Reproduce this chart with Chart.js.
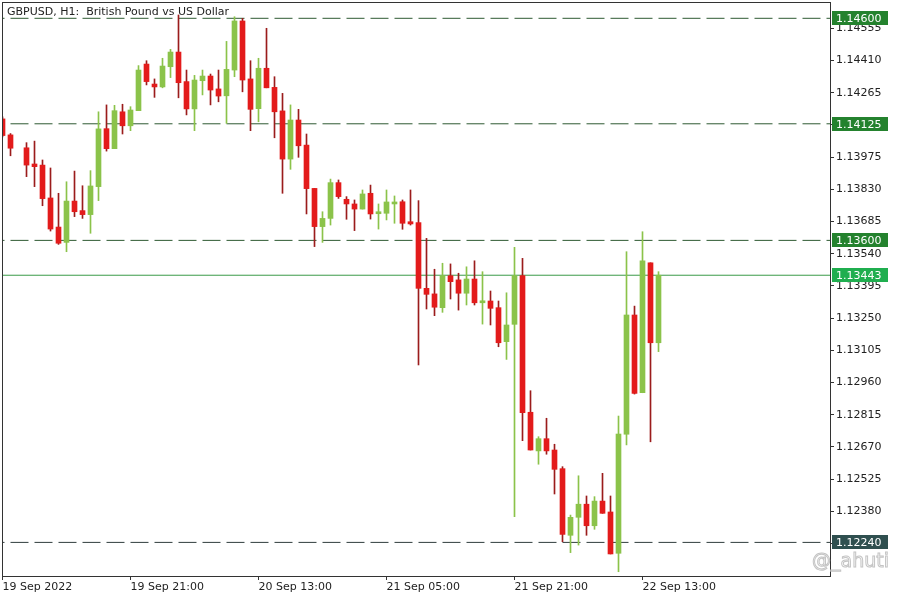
<!DOCTYPE html>
<html>
<head>
<meta charset="utf-8">
<script src="https://cdn.jsdelivr.net/npm/chart.js@4.4.0/dist/chart.umd.min.js"></script>
<style>
  html, body { margin: 0; padding: 0; background: #fff; }
  #wrap { width: 900px; height: 600px; }
</style>
</head>
<body>
<div id="wrap"><canvas id="chart" width="900" height="600"></canvas></div>
<script>
// GBPUSD H1 bars, index 0 = 19 Sep 2022 05:00 (index 2 has no bar on the chart)
const opens = [1.14147, 1.14075, null, 1.14017, 1.13944, 1.13939, 1.13791, 1.13660, 1.13591, 1.13777,
  1.13734, 1.13716, 1.13842, 1.14103, 1.14013, 1.14179, 1.14116, 1.14184, 1.14394, 1.14304,
  1.14291, 1.14382, 1.14448, 1.14315, 1.14192, 1.14319, 1.14340, 1.14282, 1.14251, 1.14367,
  1.14588, 1.14327, 1.14193, 1.14375, 1.14289, 1.14183, 1.13966, 1.14142, 1.14029, 1.13834,
  1.13662, 1.13699, 1.13860, 1.13785, 1.13764, 1.13741, 1.13812, 1.13720, 1.13722, 1.13764,
  1.13774, 1.13684, 1.13680, 1.13384, 1.13359, 1.13297, 1.13441, 1.13422, 1.13362, 1.13426,
  1.13319, 1.13327, 1.13297, 1.13144, 1.13222, 1.13441, 1.12826, 1.12652, 1.12707, 1.12656,
  1.12572, 1.12272, 1.12353, 1.12412, 1.12315, 1.12426, 1.12377, 1.12191, 1.12727, 1.13264,
  1.12914, 1.13499, 1.13139];
const highs = [1.14156, 1.14081, null, 1.14040, 1.14047, 1.13962, 1.13926, 1.13812, 1.13864, 1.13912,
  1.13846, 1.13914, 1.14179, 1.14210, 1.14208, 1.14213, 1.14202, 1.14387, 1.14409, 1.14327,
  1.14420, 1.14460, 1.14615, 1.14367, 1.14343, 1.14367, 1.14349, 1.14367, 1.14496, 1.14607,
  1.14600, 1.14409, 1.14420, 1.14555, 1.14337, 1.14262, 1.14210, 1.14190, 1.14079, 1.13834,
  1.13729, 1.13876, 1.13872, 1.13797, 1.13782, 1.13827, 1.13849, 1.13764, 1.13827, 1.13800,
  1.13782, 1.13827, 1.13779, 1.13609, 1.13470, 1.13497, 1.13494, 1.13452, 1.13481, 1.13508,
  1.13459, 1.13372, 1.13327, 1.13364, 1.13569, 1.13519, 1.12923, 1.12716, 1.12799, 1.12682,
  1.12581, 1.12363, 1.12540, 1.12449, 1.12446, 1.12551, 1.12449, 1.12809, 1.13549, 1.13304,
  1.13639, 1.13499, 1.13459];
const lows = [1.14066, 1.13981, null, 1.13887, 1.13842, 1.13756, 1.13642, 1.13582, 1.13549, 1.13707,
  1.13699, 1.13632, 1.13779, 1.14002, 1.14013, 1.14079, 1.14094, 1.14184, 1.14300, 1.14244,
  1.14287, 1.14333, 1.14242, 1.14165, 1.14094, 1.14255, 1.14210, 1.14224, 1.14127, 1.14337,
  1.14269, 1.14094, 1.14134, 1.14287, 1.14062, 1.13812, 1.13920, 1.13974, 1.13719, 1.13572,
  1.13591, 1.13669, 1.13789, 1.13695, 1.13644, 1.13741, 1.13696, 1.13651, 1.13692, 1.13677,
  1.13650, 1.13669, 1.13039, 1.13291, 1.13261, 1.13276, 1.13336, 1.13286, 1.13309, 1.13309,
  1.13223, 1.13219, 1.13121, 1.13064, 1.12356, 1.12698, 1.12656, 1.12592, 1.12637, 1.12458,
  1.12243, 1.12194, 1.12228, 1.12272, 1.12299, 1.12371, 1.12188, 1.12108, 1.12679, 1.12908,
  1.12914, 1.12693, 1.13099];
const closes = [1.14072, 1.14015, null, 1.13939, 1.13932, 1.13788, 1.13651, 1.13587, 1.13777, 1.13729,
  1.13716, 1.13845, 1.14102, 1.14013, 1.14184, 1.14116, 1.14187, 1.14367, 1.14315, 1.14291,
  1.14385, 1.14448, 1.14310, 1.14192, 1.14322, 1.14340, 1.14277, 1.14250, 1.14370, 1.14588,
  1.14322, 1.14190, 1.14375, 1.14287, 1.14179, 1.13966, 1.14142, 1.14026, 1.13833, 1.13662,
  1.13699, 1.13860, 1.13797, 1.13764, 1.13741, 1.13809, 1.13719, 1.13729, 1.13773, 1.13773,
  1.13677, 1.13674, 1.13384, 1.13357, 1.13299, 1.13441, 1.13414, 1.13362, 1.13426, 1.13319,
  1.13328, 1.13294, 1.13139, 1.13219, 1.13441, 1.12824, 1.12656, 1.12707, 1.12652, 1.12569,
  1.12276, 1.12353, 1.12412, 1.12315, 1.12426, 1.12371, 1.12188, 1.12728, 1.13264, 1.12911,
  1.13508, 1.13139, 1.13443];

const timeTicks = [0, 16, 32, 48, 64, 80];
const timeLabels = ["19 Sep 2022", "19 Sep 21:00", "20 Sep 13:00", "21 Sep 05:00", "21 Sep 21:00", "22 Sep 13:00"];
const priceTicks = [1.14555, 1.14410, 1.14265, 1.14120, 1.13975, 1.13830, 1.13685, 1.13540, 1.13395,
  1.13250, 1.13105, 1.12960, 1.12815, 1.12670, 1.12525, 1.12380, 1.12235];
const levels = [1.14600, 1.14125, 1.13600, 1.12240];
const lastPrice = 1.13443;
const boxPrices = [1.14600, 1.14125, 1.13600, 1.13443, 1.12240];

const bullColor = "#8bc34a";
const bearColor = "#e31b1b";
const bearWick = "#9b1c1c";
const levelColors = ["#2f5a33", "#2f5a33", "#2f5a33", "#2f3d3d"];
const boxColors = ["#24822e", "#24822e", "#24822e", "#1fae4f", "#2f4f4f"];
const font = "'DejaVu Sans', sans-serif";

const idx = opens.map((o, i) => i).filter((i) => opens[i] !== null);
const isBull = (i) => closes[i] >= opens[i];

const bodies = idx.map((i) => ({ x: i, y: [opens[i], closes[i]] }));
const wicks = idx.map((i) => ({ x: i, y: [lows[i], highs[i]] }));

const levelSets = levels.map((v, k) => ({
  type: "line",
  data: [{ x: -5, y: v }, { x: 110, y: v }],
  borderColor: levelColors[k],
  borderWidth: 1,
  borderDash: [18, 6],
  pointRadius: 0,
  order: 5,
}));

function noPadding(s) {
  s.paddingTop = 0;
  s.paddingBottom = 0;
  s.paddingLeft = 0;
  s.paddingRight = 0;
}

const overlay = {
  id: "overlay",
  afterDraw(chart) {
    const { ctx, chartArea, scales } = chart;
    ctx.save();
    // frame
    ctx.strokeStyle = "#333";
    ctx.lineWidth = 1;
    ctx.strokeRect(chartArea.left + 0.5, chartArea.top + 0.5,
      chartArea.right - chartArea.left, chartArea.bottom - chartArea.top);
    // title
    ctx.font = "11px " + font;
    ctx.fillStyle = "#222";
    ctx.textBaseline = "middle";
    ctx.fillText("GBPUSD, H1:  British Pound vs US Dollar", 7, 12);
    // price boxes
    boxPrices.forEach((v, k) => {
      const y = Math.round(scales.y.getPixelForValue(v));
      ctx.fillStyle = boxColors[k];
      ctx.fillRect(chartArea.right + 2, y - 7, 56, 14);
      ctx.fillStyle = "#fff";
      ctx.fillText(v.toFixed(5), chartArea.right + 6, y + 1);
    });
    // watermark
    ctx.font = "19px " + font;
    ctx.lineWidth = 1;
    ctx.strokeStyle = "#c4c4c4";
    ctx.fillStyle = "rgba(255,255,255,0.9)";
    ctx.fillText("@_ahuti", 812, 562);
    ctx.strokeText("@_ahuti", 812, 562);
    ctx.restore();
  },
};

new Chart(document.getElementById("chart"), {
  type: "bar",
  data: {
    datasets: [
      {
        data: bodies,
        backgroundColor: bodies.map((d) => (isBull(d.x) ? bullColor : bearColor)),
        barThickness: 5,
        minBarLength: 2,
        grouped: false,
        order: 1,
      },
      {
        data: wicks,
        backgroundColor: wicks.map((d) => (isBull(d.x) ? bullColor : bearWick)),
        barThickness: 1,
        grouped: false,
        order: 2,
      },
      ...levelSets,
      {
        type: "line",
        data: [{ x: -5, y: lastPrice }, { x: 110, y: lastPrice }],
        borderColor: "#3a9a48",
        borderWidth: 1,
        pointRadius: 0,
        order: 4,
      },
    ],
  },
  options: {
    responsive: false,
    animation: false,
    layout: { padding: { left: 2, top: 2, right: 0, bottom: 0 } },
    plugins: { legend: { display: false }, tooltip: { enabled: false } },
    scales: {
      x: {
        type: "linear",
        min: -0.0625,
        max: 103.4375,
        offset: false,
        grid: { offset: false, drawOnChartArea: false, drawTicks: true, tickLength: 4, color: "#333" },
        border: { display: false },
        ticks: {
          autoSkip: false,
          maxRotation: 0,
          align: "start",
          padding: 1,
          color: "#222",
          font: { family: font, size: 11 },
          callback: (v, i) => timeLabels[i],
        },
        afterBuildTicks: (s) => { s.ticks = timeTicks.map((v) => ({ value: v })); },
        afterFit: (s) => { s.height = 24; noPadding(s); },
      },
      y: {
        type: "linear",
        position: "right",
        min: 1.120887,
        max: 1.146734,
        grid: { drawOnChartArea: false, drawTicks: true, tickLength: 4, color: "#333" },
        border: { display: false },
        ticks: {
          padding: 2,
          color: "#222",
          font: { family: font, size: 11 },
          callback: (v) => v.toFixed(5),
        },
        afterBuildTicks: (s) => { s.ticks = priceTicks.map((v) => ({ value: v })); },
        afterFit: (s) => { s.width = 70; noPadding(s); },
      },
    },
  },
  plugins: [overlay],
});
</script>
</body>
</html>
